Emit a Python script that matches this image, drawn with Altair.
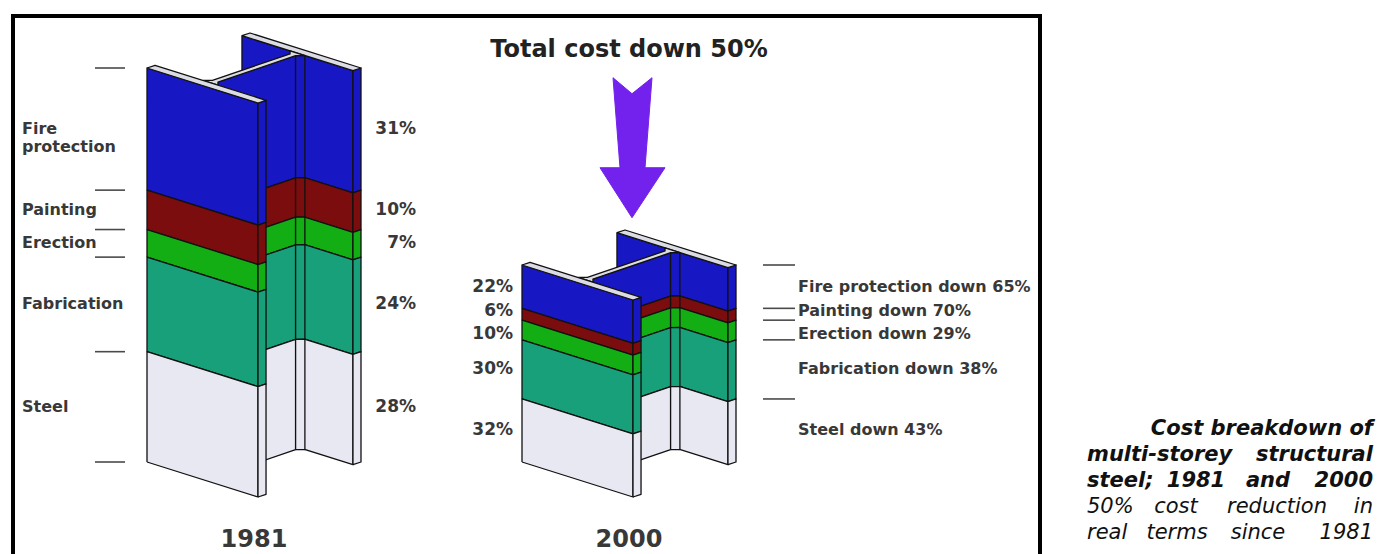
import altair as alt
import pandas as pd

# ---------------------------------------------------------------- data
components = ["Fire protection", "Painting", "Erection", "Fabrication", "Steel"]
share_1981 = [31, 10, 7, 24, 28]      # share of the 1981 cost, %
share_2000 = [22, 6, 10, 30, 32]      # share of the 2000 cost, %
total_2000 = 50                       # 2000 total cost, % of the 1981 total
reduction = [65, 70, 29, 38, 43]      # real-terms fall of each component, %
years = ["1981", "2000"]

colors = ["#1717c4", "#7b0d0e", "#13ae14", "#17a07a", "#e8e8f2"]
cap_color = "#dcdce4"
edge = "#111111"
text_color = "#383838"
arrow_color = "#7321ec"

# ---------------------------------------------------------------- layout
W, H = 1381, 554
BASE = 462            # pixel row of the beams' base
K = 3.94              # pixels per percentage point of 1981 cost
U = (111.0, 35.0)     # oblique axis across the flanges (px)
D = (103.0, -35.0)    # oblique axis along the web (px)
T = 0.078             # flange thickness, fraction of depth
TW = 0.05             # web thickness, fraction of flange width
FD, FU = 0.045, 0.042 # root fillet
beam_x = {"1981": 147.0, "2000": 522.0}
FONT = "DejaVu Sans"
LABEL_GAP = 23        # minimum spacing between stacked labels, px


def val(px_row):
    """pixel row -> value on the cost axis"""
    return (BASE - px_row) / K


def bands(year):
    heights = share_1981 if year == "1981" else [s * total_2000 / 100 for s in share_2000]
    top = sum(heights)
    out = []
    for comp, col, h in zip(components, colors, heights):
        out.append((comp, col, top - h, top))
        top -= h
    return out


def label_rows(year):
    """segment mid-points, pushed apart where labels would collide"""
    mids = [(lo + hi) / 2 for _, _, lo, hi in bands(year)]
    gap = LABEL_GAP / K
    pos = list(mids)
    for _ in range(50):
        moved = False
        for i in range(len(pos) - 1):
            over = gap - (pos[i] - pos[i + 1])
            if over > 1e-6:
                pos[i] += over / 2
                pos[i + 1] -= over / 2
                moved = True
        if not moved:
            break
    return pos


def proj(year, u, d, h):
    x = beam_x[year] + u * U[0] + d * D[0]
    y = h - (u * U[1] + d * D[1]) / K
    return x, y


rows = []
counter = [0]


def add_poly(part, pts, fill):
    pts = pts + [pts[0]]
    for i, (x, y) in enumerate(pts):
        rows.append(dict(part=part, pid=counter[0], ord=i, x=x, y=y, fill=fill))
    counter[0] += 1


def add_face(part, year, a, b):
    for comp, col, lo, hi in bands(year):
        pts = [proj(year, *a, lo), proj(year, *b, lo), proj(year, *b, hi), proj(year, *a, hi)]
        add_poly(part, pts, col)


def add_cap(part, year, uv):
    top = bands(year)[0][3]
    add_poly(part, [proj(year, u, d, top) for u, d in uv], cap_color)


wr, wl = 0.5 + TW / 2, 0.5 - TW / 2
for yr in years:
    # rear flange
    add_face("back", yr, (0, 1 - T), (1, 1 - T))
    add_face("back", yr, (1, 1 - T), (1, 1))
    add_cap("back", yr, [(0, 1 - T), (1, 1 - T), (1, 1), (0, 1)])
    # web with its root fillet
    add_face("web", yr, (wr, T), (wr, 1 - T - FD))
    add_face("web", yr, (wr, 1 - T - FD), (wr + FU, 1 - T))
    add_cap("web", yr, [(wl - FU, T), (wr + FU, T), (wr, T + FD), (wr, 1 - T - FD),
                        (wr + FU, 1 - T), (wl - FU, 1 - T), (wl, 1 - T - FD), (wl, T + FD)])
    # front flange
    add_face("front", yr, (0, 0), (1, 0))
    add_face("front", yr, (1, 0), (1, T))
    add_cap("front", yr, [(0, 0), (1, 0), (1, T), (0, T)])

poly = pd.DataFrame(rows)

xs = alt.Scale(domain=[0, W], nice=False, zero=False)
ys = alt.Scale(domain=[val(H), val(0)], nice=False, zero=False)
X = lambda f="x": alt.X(f"{f}:Q", scale=xs, axis=None)
Y = lambda f="y": alt.Y(f"{f}:Q", scale=ys, axis=None)


def solid(part):
    return alt.Chart(poly[poly["part"] == part]).mark_line(
        stroke=edge, strokeWidth=1.3, strokeJoin="round"
    ).encode(x=X(), y=Y(), detail="pid:N", order="ord:Q", fill=alt.Fill("fill:N", scale=None))


# ---------------------------------------------------------------- ticks
tick_rows = []
for yr, (a, b), keep_base in [("1981", (-52, -22), True), ("2000", (241, 273), False)]:
    bs = bands(yr)
    levels = [bb[3] for bb in bs] + ([bs[-1][2]] if keep_base else [])
    for lv in levels:
        tick_rows.append(dict(x=beam_x[yr] + a, x2=beam_x[yr] + b, y=lv))
ticks = alt.Chart(pd.DataFrame(tick_rows)).mark_rule(color="#4a4a4a", strokeWidth=1.6).encode(
    x=X(), x2="x2:Q", y=Y()
)

# ---------------------------------------------------------------- labels
left_81 = pd.DataFrame(dict(
    x=beam_x["1981"] - 125, y=label_rows("1981"),
    t=[c.replace(" ", "\n") for c in components]))
pct_81 = pd.DataFrame(dict(
    x=beam_x["1981"] + 269, y=label_rows("1981"), t=[f"{s}%" for s in share_1981]))
pct_00 = pd.DataFrame(dict(
    x=beam_x["2000"] - 9, y=label_rows("2000"), t=[f"{s}%" for s in share_2000]))
right_00 = pd.DataFrame(dict(
    x=beam_x["2000"] + 276, y=label_rows("2000"),
    t=[f"{c} down {r}%" for c, r in zip(components, reduction)]))
year_df = pd.DataFrame(dict(x=[beam_x[y] + 107 for y in years], y=val(540), t=years))


def text_layer(df, align, size, weight="bold", color=text_color, style="normal"):
    return alt.Chart(df).mark_text(
        align=align, baseline="middle", font=FONT, fontSize=size, fontWeight=weight,
        fontStyle=style, color=color, lineBreak="\n", lineHeight=18,
    ).encode(x=X(), y=Y(), text="t:N")


# ---------------------------------------------------------------- arrow
tip_x = beam_x["2000"] + 110
tip_y = total_2000 + 12
arrow_shape = [(-19, -140), (0, -124), (20, -140), (13, -50), (33, -50),
               (0, 0), (-32, -50), (-12, -50), (-19, -140)]
arrow_df = pd.DataFrame([dict(x=tip_x + dx, y=tip_y - dy / K, ord=i)
                         for i, (dx, dy) in enumerate(arrow_shape)])
arrow = alt.Chart(arrow_df).mark_line(fill=arrow_color, stroke=arrow_color, strokeWidth=1).encode(
    x=X(), y=Y(), order="ord:Q"
)

title_df = pd.DataFrame(dict(x=[629], y=[val(50)], t=[f"Total cost down {100 - total_2000}%"]))

# ---------------------------------------------------------------- caption (justified words)
cap_rows = [429, 455, 481, 507, 533]
caption_words = [
    (0, "bold", "Cost breakdown of", 1373, "right"),
    (1, "bold", "multi-storey", 1087, "left"),
    (1, "bold", "structural", 1373, "right"),
    (2, "bold", "steel;", 1087, "left"),
    (2, "bold", years[0], 1196, "center"),
    (2, "bold", "and", 1268, "center"),
    (2, "bold", years[1], 1373, "right"),
    (3, "normal", f"{100 - total_2000}%", 1087, "left"),
    (3, "normal", "cost", 1176, "center"),
    (3, "normal", "reduction", 1277, "center"),
    (3, "normal", "in", 1373, "right"),
    (4, "normal", "real", 1087, "left"),
    (4, "normal", "terms", 1177, "center"),
    (4, "normal", "since", 1258, "center"),
    (4, "normal", years[0], 1373, "right"),
]
cap_df = pd.DataFrame([dict(x=x, y=val(cap_rows[ln]), t=w, wt=wt, al=al)
                       for ln, wt, w, x, al in caption_words])
caption_layers = []
for wt in ["bold", "normal"]:
    for al in ["left", "center", "right"]:
        sub = cap_df[(cap_df["wt"] == wt) & (cap_df["al"] == al)]
        if len(sub) == 0:
            continue
        caption_layers.append(text_layer(sub, al, 21, weight=wt, color="#111111", style="italic"))

# ---------------------------------------------------------------- frame
frame_left = alt.Chart().mark_rule(color="black", strokeWidth=4).encode(
    x=alt.value(13), y=alt.value(14), y2=alt.value(H))
frame_right = alt.Chart().mark_rule(color="black", strokeWidth=4).encode(
    x=alt.value(1040), y=alt.value(14), y2=alt.value(H))
frame_top = alt.Chart().mark_rule(color="black", strokeWidth=4).encode(
    x=alt.value(11), x2=alt.value(1042), y=alt.value(16))

chart = alt.layer(
    solid("back"), solid("web"), solid("front"),
    ticks,
    text_layer(left_81, "left", 16),
    text_layer(pct_81, "right", 17),
    text_layer(pct_00, "right", 17),
    text_layer(right_00, "left", 16),
    text_layer(year_df, "center", 24),
    arrow,
    text_layer(title_df, "center", 24, color="#222222"),
    *caption_layers,
    frame_left, frame_right, frame_top,
).properties(
    width=W, height=H, padding=0, autosize="none", background="white"
).configure_view(strokeWidth=0)

chart.save("out.html", embed_options={"renderer": "svg", "actions": False})
